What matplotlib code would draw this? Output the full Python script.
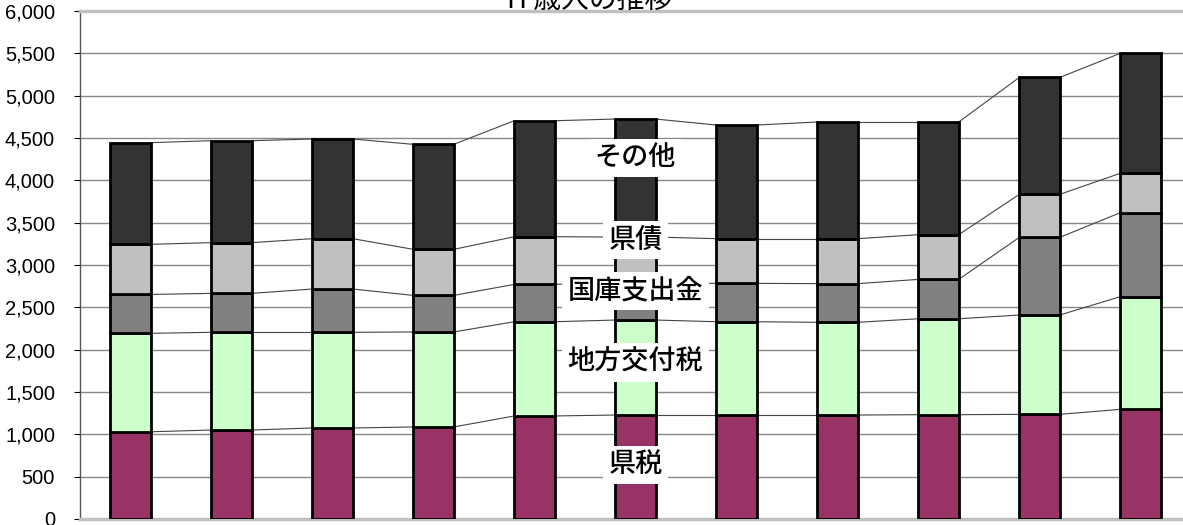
import numpy as np
import matplotlib
matplotlib.use("Agg")
import matplotlib.pyplot as plt

# values (11 fiscal years, stacked)
kenzei    = [1030, 1051, 1075, 1087, 1217, 1228, 1228, 1228, 1232, 1236, 1295]
chihou    = [2193, 2205, 2205, 2209, 2330, 2350, 2330, 2323, 2365, 2409, 2626]
kokko     = [2652, 2665, 2716, 2641, 2771, 2787, 2783, 2780, 2830, 3326, 3618]
kensai    = [3244, 3264, 3311, 3185, 3334, 3330, 3311, 3311, 3358, 3834, 4083]
sonota    = [4445, 4468, 4488, 4425, 4704, 4724, 4653, 4689, 4689, 5215, 5500]

names  = ["県税", "地方交付税", "国庫支出金", "県債", "その他"]
tops   = [kenzei, chihou, kokko, kensai, sonota]
colors = ["#993366", "#ccffcc", "#808080", "#c0c0c0", "#333333"]
# where the series names sit (on the 6th bar)
label_y = [640, 1850, 2690, 3295, 4265]

title = "H 歳入の推移"

fig = plt.figure(figsize=(11.83, 5.25), dpi=100)
# plot area runs past the right edge of the picture like the original
ax = fig.add_axes([80/1183, 6/525, 1111/1183, 508/525])

x = np.arange(len(kenzei))
w = 0.4
bottom = np.zeros(len(x))
for name, t, c in zip(names, tops, colors):
    t = np.array(t, dtype=float)
    ax.bar(x, t - bottom, w, bottom=bottom, color=c, edgecolor="black",
           linewidth=2, zorder=3)
    # thin series lines between the bars
    for i in range(len(x) - 1):
        ax.plot([x[i] + w/2, x[i+1] - w/2], [t[i], t[i+1]],
                color="#444444", linewidth=0.8, zorder=2)
    bottom = t

for name, ly in zip(names, label_y):
    ax.text(5, ly, name, ha="center", va="center", fontsize=19.5,
            weight="medium", family=["Noto Sans CJK JP", "DejaVu Sans"], zorder=5,
            bbox=dict(facecolor="white", edgecolor="none", pad=4))

ax.set_xlim(-0.5, len(x) - 0.5)
ax.set_ylim(0, 6000)
ax.set_yticks(np.arange(0, 6001, 500))
ax.set_yticklabels([f"{v:,}" for v in range(0, 6001, 500)],
                   family=["Liberation Sans Narrow", "Liberation Sans"], fontsize=14.5)
ax.set_xticks([])
ax.tick_params(axis="y", length=4, pad=14)
ax.yaxis.grid(True, color="#888888", linewidth=1, zorder=0)
ax.set_axisbelow(True)

for s in ["top", "bottom"]:
    ax.spines[s].set_color("#c0c0c0")
    ax.spines[s].set_linewidth(2.5)
ax.spines["left"].set_color("#555555")
ax.spines["left"].set_linewidth(1)
ax.spines["right"].set_visible(False)

fig.text(590/1183, 1 - 8/525, title, ha="center", va="baseline", fontsize=20,
         family=["Noto Sans CJK JP", "DejaVu Sans"])

fig.savefig("out.png", dpi=100)
